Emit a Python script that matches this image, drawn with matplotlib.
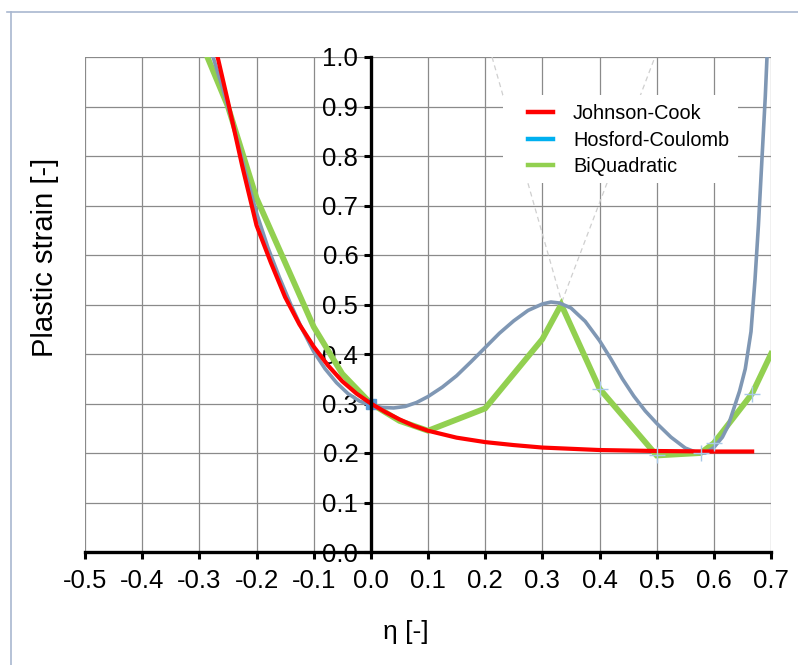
import matplotlib
matplotlib.use('Agg')
import matplotlib.pyplot as plt
from matplotlib.lines import Line2D
from matplotlib.patches import Rectangle

plt.rcParams['font.family'] = ['Liberation Sans', 'DejaVu Sans']
plt.rcParams['axes.unicode_minus'] = False

# Johnson-Cook fracture strain vs stress triaxiality
eta_jc = [-0.268, -0.25, -0.225, -0.2, -0.175, -0.15, -0.125, -0.1, -0.075, -0.05,
          -0.025, 0.0, 0.025, 0.05, 0.075, 0.1, 0.15, 0.2, 0.25, 0.3, 0.4, 0.5,
          0.6, 0.667]
eps_jc = [1.0, 0.91, 0.78, 0.66, 0.585, 0.515, 0.46, 0.415, 0.377, 0.345,
          0.32, 0.30, 0.283, 0.268, 0.255, 0.245, 0.231, 0.222, 0.216, 0.211, 0.206,
          0.204, 0.203, 0.203]

# Hosford-Coulomb
eta_hc = [-0.276, -0.26, -0.24, -0.22, -0.2, -0.18, -0.16, -0.14, -0.12, -0.1,
          -0.08, -0.06, -0.04, -0.02, 0.0, 0.02, 0.04, 0.06, 0.08, 0.1, 0.125,
          0.15, 0.175, 0.2, 0.225, 0.25, 0.275, 0.3, 0.315, 0.33, 0.35, 0.375,
          0.4, 0.42, 0.44, 0.46, 0.48, 0.5, 0.525, 0.55, 0.57, 0.585, 0.6, 0.615,
          0.625, 0.635, 0.645, 0.655, 0.665, 0.672, 0.678, 0.684, 0.69, 0.693]
eps_hc = [1.0, 0.94, 0.86, 0.77, 0.685, 0.615, 0.555, 0.50, 0.45, 0.405,
          0.37, 0.342, 0.32, 0.305, 0.296, 0.292, 0.291, 0.294, 0.302, 0.314, 0.333,
          0.356, 0.384, 0.413, 0.442, 0.467, 0.488, 0.501, 0.505, 0.503, 0.493, 0.466,
          0.427, 0.39, 0.35, 0.315, 0.285, 0.26, 0.232, 0.21, 0.201, 0.200, 0.211, 0.232,
          0.255, 0.29, 0.325, 0.37, 0.445, 0.55, 0.66, 0.79, 0.92, 1.0]

# BiQuadratic
eta_bq = [-0.286, -0.25, -0.2, -0.1, -0.05, 0.0, 0.05, 0.1, 0.2, 0.3, 0.333,
          0.4, 0.5, 0.577, 0.6, 0.667, 0.7]
eps_bq = [1.0, 0.90, 0.715, 0.455, 0.36, 0.30, 0.265, 0.245, 0.29, 0.43, 0.50,
          0.33, 0.195, 0.20, 0.22, 0.32, 0.40]

# calibration points
eta_pts = [0.4, 0.5, 0.577, 0.6, 0.667]
eps_pts = [0.33, 0.195, 0.20, 0.22, 0.32]

# construction lines through the plane-strain peak
eta_guide_l = [0.212, 0.334]
eps_guide_l = [1.0, 0.505]
eta_guide_r = [0.334, 0.497]
eps_guide_r = [0.505, 1.0]

xticks = [-0.5, -0.4, -0.3, -0.2, -0.1, 0.0, 0.1, 0.2, 0.3, 0.4, 0.5, 0.6, 0.7]
yticks = [0.0, 0.1, 0.2, 0.3, 0.4, 0.5, 0.6, 0.7, 0.8, 0.9, 1.0]

size = 18.5

fig = plt.figure(figsize=(7.98, 6.65), dpi=100)
ax = fig.add_axes([85/798, 1-552/665, 686/798, 495/665])

# sheet border
fig.add_artist(Line2D([7/798, 1.0], [1-12/665, 1-12/665], color='#a9b8d0', lw=1.2))
fig.add_artist(Line2D([11/798, 11/798], [0.0, 1-12/665], color='#a9b8d0', lw=1.2))

ax.set_xlim(-0.5, 0.7)
ax.set_ylim(0.0, 1.0)
ax.set_xticks(xticks)
ax.set_yticks(yticks)
ax.set_xticklabels(['%.1f' % t for t in xticks])
ax.set_yticklabels(['%.1f' % t for t in yticks])
ax.grid(True, color='#8a8a8a', lw=0.9)
ax.set_axisbelow(True)

ax.plot(eta_guide_l, eps_guide_l, color='#cfcfcf', lw=0.9, ls=(0, (4, 3)), zorder=1.5)
ax.plot(eta_guide_r, eps_guide_r, color='#cfcfcf', lw=0.9, ls=(0, (4, 3)), zorder=1.5)

ax.add_patch(Rectangle((0.609, 0.745), 0.343, 0.178, transform=ax.transAxes,
                       facecolor='white', edgecolor='none', zorder=2.5))

ax.plot(eta_bq, eps_bq, color='#92d050', lw=4.2, zorder=3, solid_joinstyle='miter')
ax.plot(eta_hc, eps_hc, color='#7f97b4', lw=2.6, zorder=4)
ax.plot(eta_jc, eps_jc, color='#ff0000', lw=3.0, zorder=5)
ax.plot(eta_pts, eps_pts, ls='none', marker='+', ms=12, mew=1.0, color='#a8c8e8', zorder=6)
ax.plot([0.0], [0.30], ls='none', marker='s', ms=7, color='#5b9bd5', zorder=4.5)

for side in ['top', 'right']:
    ax.spines[side].set_visible(False)
ax.spines['left'].set_position(('data', 0.0))
ax.spines['left'].set_linewidth(2.4)
ax.spines['bottom'].set_linewidth(2.4)
ax.spines['left'].set_zorder(7)
ax.spines['bottom'].set_zorder(7)
ax.tick_params(axis='both', direction='out', length=5, width=2.2, labelsize=size)
ax.tick_params(axis='y', pad=4)
ax.tick_params(axis='x', pad=7)

handles = [Line2D([], [], color='#ff0000', lw=3.2),
           Line2D([], [], color='#00b0f0', lw=3.2),
           Line2D([], [], color='#92d050', lw=3.2)]
ax.legend(handles, ['Johnson-Cook', 'Hosford-Coulomb', 'BiQuadratic'],
          loc='upper left', bbox_to_anchor=(0.632, 0.925), frameon=False,
          borderpad=0, handlelength=1.25, handletextpad=1.0, labelspacing=0.38,
          fontsize=14.3)

fig.text(45/798, 1-257/665, 'Plastic strain [-]', rotation=90, ha='center',
         va='center', fontsize=21)
fig.text(406/798, 1-632/665, 'η [-]', ha='center', va='center', fontsize=19)

fig.savefig('out.png', dpi=100)
